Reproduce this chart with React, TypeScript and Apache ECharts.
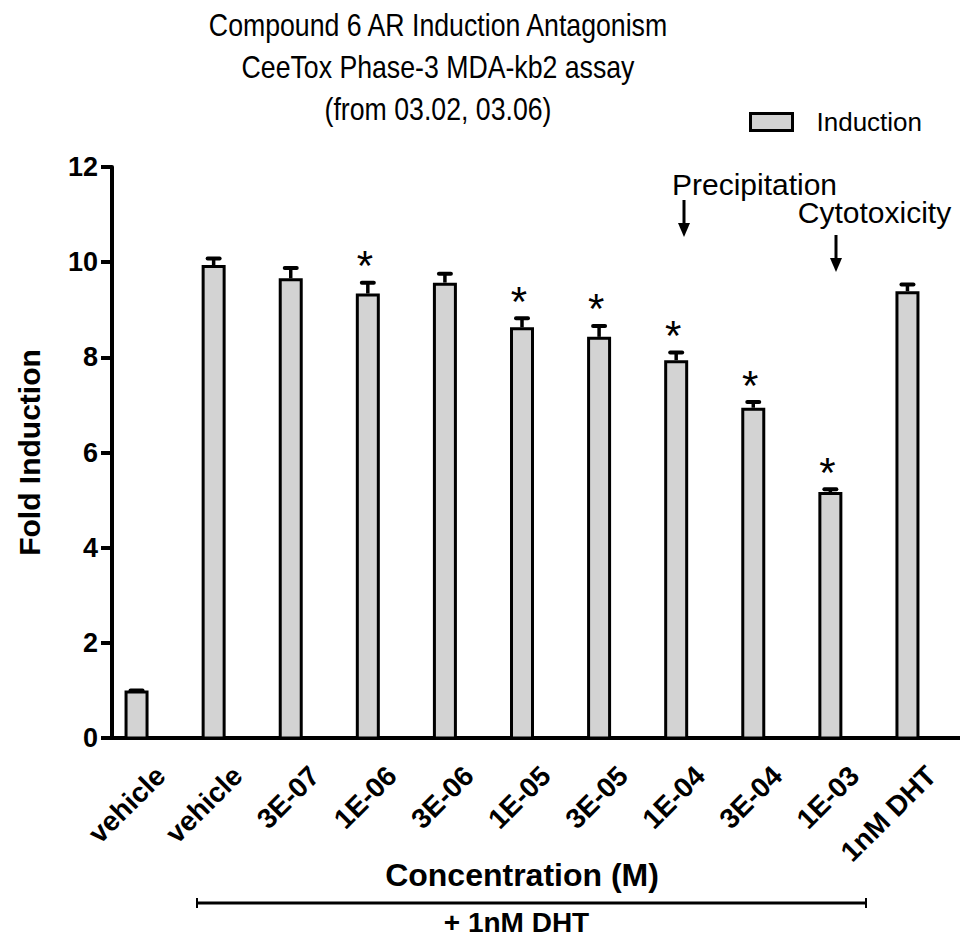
import React, { useEffect, useRef } from "react";
import * as echarts from "echarts";

const FONT = '"Liberation Sans", Arial, Helvetica, sans-serif';

const categories = ["vehicle", "vehicle", "3E-07", "1E-06", "3E-06", "1E-05", "3E-05", "1E-04", "3E-04", "1E-03", "1nM DHT"];
const inductionMeans = [1.0, 9.94, 9.66, 9.34, 9.57, 8.63, 8.43, 7.94, 6.94, 5.17, 9.39];
const inductionErrors = [0.02, 0.16, 0.24, 0.25, 0.21, 0.21, 0.25, 0.18, 0.14, 0.08, 0.16];
const significant = [0, 0, 0, 1, 0, 1, 1, 1, 1, 1, 0];
const yTicks = { min: 0, max: 12, interval: 2 };
const titleLines = ["Compound 6 AR Induction Antagonism", "CeeTox Phase-3 MDA-kb2 assay", "(from 03.02, 03.06)"];

function txt(text: string, x: number, y: number, font: string, extra: any = {}) {
  return {
    type: "text",
    x,
    y,
    silent: true,
    ...extra,
    style: { text, font, fill: "#000", align: "center", verticalAlign: "middle" },
  };
}

export default function App() {
  const ref = useRef<HTMLDivElement>(null);
  useEffect(() => {
    if (!ref.current) return;
    const chart = echarts.init(ref.current, null, { renderer: "svg" });
    const data = categories.map((_, i) => [i, inductionMeans[i], inductionErrors[i], significant[i]]);
    const option: any = {
      animation: false,
      backgroundColor: "#fff",
      grid: { left: 112, top: 167, width: 858, height: 571, containLabel: false },
      legend: {
        left: 749,
        top: 109,
        padding: 0,
        itemWidth: 42,
        itemHeight: 17,
        data: [{ name: "Induction", icon: "rect", itemStyle: { color: "#d3d3d3", borderColor: "#000", borderWidth: 3 } }],
        textStyle: { fontFamily: FONT, fontSize: 26, color: "#000", padding: [0, 0, 0, 19] },
      },
      xAxis: {
        type: "category",
        data: categories,
        axisLine: { lineStyle: { color: "#000", width: 4 } },
        axisTick: { alignWithLabel: true, length: 13, lineStyle: { color: "#000", width: 4 } },
        axisLabel: {
          interval: 0,
          rotate: 45,
          align: "right",
          verticalAlign: "top",
          margin: 23,
          fontFamily: FONT,
          fontWeight: "bold",
          fontSize: 28,
          color: "#000",
        },
        splitLine: { show: false },
      },
      yAxis: {
        type: "value",
        min: yTicks.min,
        max: yTicks.max,
        interval: yTicks.interval,
        name: "Fold Induction",
        nameLocation: "middle",
        nameGap: 68,
        nameTextStyle: { fontFamily: FONT, fontWeight: "bold", fontSize: 30, color: "#000" },
        axisLine: { show: true, lineStyle: { color: "#000", width: 4 } },
        axisTick: { show: true, length: 11, lineStyle: { color: "#000", width: 4 } },
        axisLabel: { margin: 14, fontFamily: FONT, fontWeight: "bold", fontSize: 27, color: "#000" },
        splitLine: { show: false },
      },
      series: [
        {
          type: "custom",
          name: "Induction",
          data,
          encode: { x: 0, y: 1 },
          itemStyle: { color: "#d3d3d3", borderColor: "#000", borderWidth: 3 },
          renderItem: (params: any, api: any) => {
            const i = api.value(0);
            const v = api.value(1);
            const e = api.value(2);
            const s = api.value(3);
            const top = api.coord([i, v]);
            const base = api.coord([i, 0]);
            const cap = api.coord([i, v + e]);
            const cx = top[0] - 14;
            const children: any[] = [
              {
                type: "rect",
                shape: { x: cx - 10.5, y: top[1] + 1.5, width: 21, height: base[1] - top[1] - 1.5 },
                style: { fill: "#d3d3d3", stroke: "#000", lineWidth: 3 },
              },
              {
                type: "line",
                shape: { x1: cx, y1: top[1], x2: cx, y2: cap[1] },
                style: { stroke: "#000", lineWidth: 3.5 },
              },
              {
                type: "line",
                shape: { x1: cx - 6, y1: cap[1] + 1, x2: cx + 6, y2: cap[1] + 1 },
                style: { stroke: "#000", lineWidth: 4, lineCap: "round" },
              },
            ];
            if (s) {
              children.push({
                type: "text",
                x: cx - 3,
                y: cap[1] - 16,
                style: { text: "*", font: `42px ${FONT}`, fill: "#000", align: "center", verticalAlign: "middle" },
              });
            }
            return { type: "group", children };
          },
        },
      ],
      graphic: [
        txt(titleLines[0], 438, 25, `32px ${FONT}`, { scaleX: 0.834 }),
        txt(titleLines[1], 438, 67, `32px ${FONT}`, { scaleX: 0.834 }),
        txt(titleLines[2], 438, 109, `32px ${FONT}`, { scaleX: 0.834 }),
        txt("Precipitation", 754.5, 184, `30px ${FONT}`),
        { type: "line", silent: true, shape: { x1: 684, y1: 200, x2: 684, y2: 226 }, style: { stroke: "#000", lineWidth: 3 } },
        { type: "polygon", silent: true, shape: { points: [[678, 223], [690, 223], [684, 237]] }, style: { fill: "#000" } },
        txt("Cytotoxicity", 874.5, 212.5, `30px ${FONT}`),
        { type: "line", silent: true, shape: { x1: 836, y1: 235, x2: 836, y2: 261 }, style: { stroke: "#000", lineWidth: 3 } },
        { type: "polygon", silent: true, shape: { points: [[830, 258], [842, 258], [836, 272]] }, style: { fill: "#000" } },
        txt("Concentration (M)", 522, 875, `bold 32px ${FONT}`),
        { type: "line", silent: true, shape: { x1: 197, y1: 903, x2: 866, y2: 903 }, style: { stroke: "#000", lineWidth: 3 } },
        { type: "line", silent: true, shape: { x1: 197, y1: 898, x2: 197, y2: 908 }, style: { stroke: "#000", lineWidth: 2 } },
        { type: "line", silent: true, shape: { x1: 866, y1: 898, x2: 866, y2: 908 }, style: { stroke: "#000", lineWidth: 2 } },
        txt("+ 1nM DHT", 516.5, 922, `bold 28px ${FONT}`),
      ],
    };
    chart.setOption(option);
    return () => chart.dispose();
  }, []);
  return <div ref={ref} style={{ position: "fixed", left: 0, top: 0, width: 960, height: 936 }} />;
}
